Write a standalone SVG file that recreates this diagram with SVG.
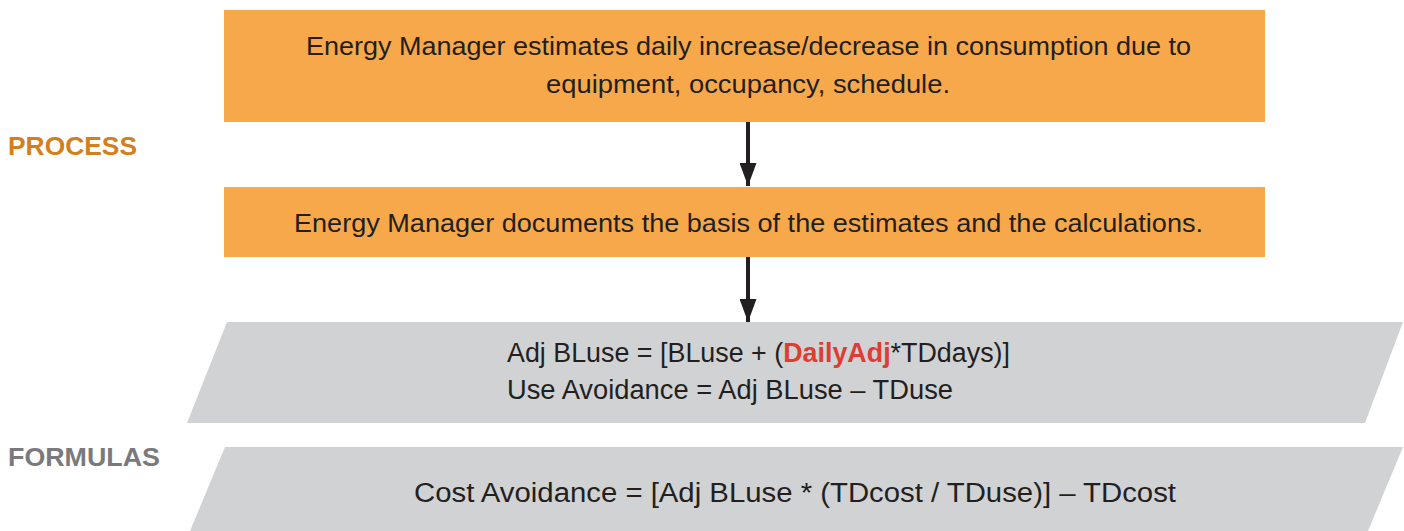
<svg xmlns="http://www.w3.org/2000/svg" width="1404" height="531" viewBox="0 0 1404 531">
<defs>
<style>
.t{font-family:"Liberation Sans",Arial,sans-serif;fill:#231F20}
.box{fill:#F7A84B}
.para{fill:#D1D2D4}
.lbl{font-family:"Liberation Sans",Arial,sans-serif;font-weight:bold;font-size:26px}
.conn{stroke:#231F20;stroke-width:4;fill:none}
</style>
<marker id="ah" viewBox="0 0 23 17" refX="23" refY="8.5" markerWidth="23" markerHeight="17" markerUnits="userSpaceOnUse" orient="auto">
<path d="M0,0 L23,8.5 L0,17 Z" fill="#231F20"/>
</marker>
</defs>
<rect width="1404" height="531" fill="#FFFFFF"/>
<text class="lbl" x="8" y="155" fill="#D47F1E" textLength="129" lengthAdjust="spacingAndGlyphs">PROCESS</text>
<text class="lbl" x="8" y="466" fill="#7A7A7D" textLength="152" lengthAdjust="spacingAndGlyphs">FORMULAS</text>
<g id="n1">
<rect class="box" x="224" y="10" width="1041" height="112"/>
<text class="t" x="306" y="55" font-size="25" textLength="885" lengthAdjust="spacingAndGlyphs">Energy Manager estimates daily increase/decrease in consumption due to</text>
<text class="t" x="546" y="93" font-size="25" textLength="404" lengthAdjust="spacingAndGlyphs">equipment, occupancy, schedule.</text>
</g>
<g id="n2">
<rect class="box" x="224" y="187" width="1041" height="70"/>
<text class="t" x="294" y="232" font-size="25" textLength="909" lengthAdjust="spacingAndGlyphs">Energy Manager documents the basis of the estimates and the calculations.</text>
</g>
<g id="n3">
<polygon class="para" points="227,322 1403,322 1365,423 187,423"/>
<text class="t" x="507" y="362" font-size="27" textLength="503" lengthAdjust="spacingAndGlyphs">Adj BLuse = [BLuse + (<tspan font-weight="bold" fill="#E03C31">DailyAdj</tspan>*TDdays)]</text>
<text class="t" x="507" y="399" font-size="27" textLength="446" lengthAdjust="spacingAndGlyphs">Use Avoidance = Adj BLuse – TDuse</text>
</g>
<g id="n4">
<polygon class="para" points="225,447 1403,447 1368,531 190,531"/>
<text class="t" x="414" y="502" font-size="27" textLength="762" lengthAdjust="spacingAndGlyphs">Cost Avoidance = [Adj BLuse * (TDcost / TDuse)] – TDcost</text>
</g>
<g id="connectors">
<line class="conn" x1="748" y1="122" x2="748" y2="186" marker-end="url(#ah)"/>
<line class="conn" x1="748" y1="257" x2="748" y2="322" marker-end="url(#ah)"/>
</g>
</svg>
